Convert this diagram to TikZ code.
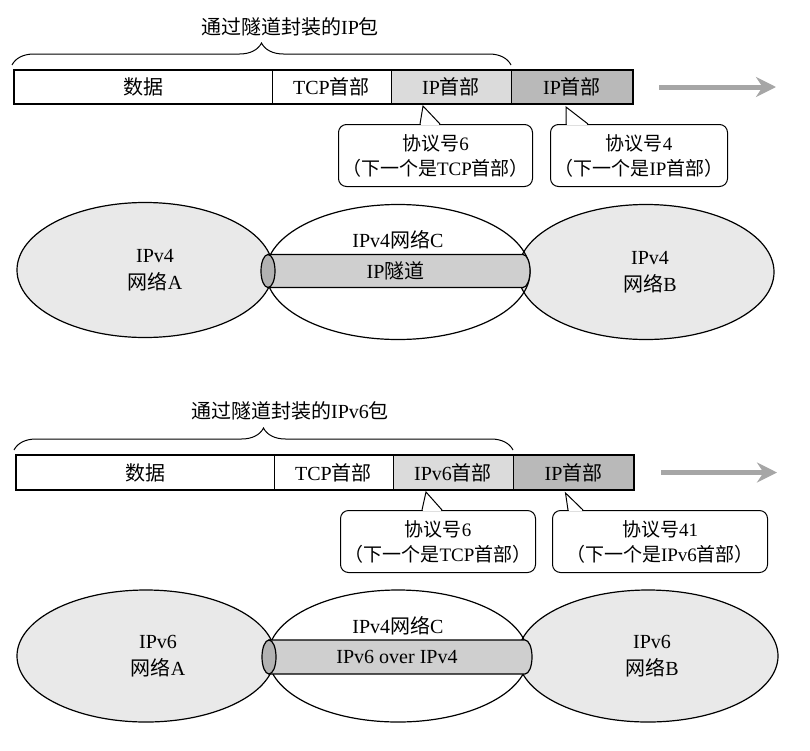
\documentclass[tikz,border=0pt]{standalone}
\usepackage{fontspec}
\setmainfont{Liberation Serif}
\newfontfamily\cjk{Noto Sans CJK SC}
\newcommand{\zh}[1]{{\cjk #1}}
\usetikzlibrary{positioning,calc,arrows.meta,shapes.geometric,decorations.pathreplacing}
\tikzset{
    cell/.style={rectangle, draw=black, line width=1pt, inner sep=0pt, outer sep=0pt, minimum height=34pt, font=\fontsize{20}{24}\selectfont},
    cellData/.style={cell, fill=white, minimum width=258pt},
    cellTcp/.style={cell, fill=white, minimum width=119pt},
    cellInner/.style={cell, fill=gray!28, minimum width=120pt},
    cellOuter/.style={cell, fill=gray!55, minimum width=122pt},
    noteBox/.style={rectangle, rounded corners=8pt, draw=black, line width=1pt, fill=white, minimum height=62pt, inner sep=0pt, align=center, font=\fontsize{19}{25}\selectfont},
    netGray/.style={ellipse, draw=black, line width=1.2pt, fill=gray!17, minimum width=256pt, minimum height=135pt},
    netWhite/.style={ellipse, draw=black, line width=1.2pt, minimum width=264pt, minimum height=135pt},
    tunBody/.style={draw=black, line width=1.2pt, fill=gray!38},
    tunEnd/.style={draw=black, line width=1.2pt, fill=gray!60},
    tunText/.style={font=\fontsize{20}{24}\selectfont},
    netText/.style={align=center, font=\fontsize{20}{27}\selectfont},
    title/.style={font=\fontsize{20}{24}\selectfont},
    bigArrow/.style={line width=5pt, gray!70, -{Stealth[length=20pt, width=20pt]}},
    pointer/.style={line width=1pt}
}

\begin{document}
\begin{tikzpicture}[x=1pt,y=-1pt]
\useasboundingbox (0,0) rectangle (810,750);

% ----------------------------
% IP over IP
% ----------------------------
\node[title] (cap1) at (290,27) {\zh{通过隧道封装的}IP\zh{包}};

\node[cellData, anchor=north west] (data1) at (14,70) {\zh{数据}};
\node[cellTcp, right=0pt of data1] (tcp1) {TCP\zh{首部}};
\node[cellInner, right=0pt of tcp1] (inner1) {IP\zh{首部}};
\node[cellOuter, right=0pt of inner1] (outer1) {IP\zh{首部}};
\draw[line width=2pt] (data1.north west) rectangle (outer1.south east);

\draw[decorate, decoration={brace, amplitude=22pt}, line width=1pt] ([xshift=-2pt,yshift=5pt]data1.north west) -- ([yshift=5pt]inner1.north east);

\coordinate (arr1s) at ([xshift=26pt]outer1.east);
\coordinate (arr1e) at ([xshift=143pt]outer1.east);
\draw[bigArrow] (arr1s) -- (arr1e);

\node[noteBox, minimum width=194pt, anchor=north west] (note1a) at (338,124) {\zh{协议号}6\\\zh{（下一个是}TCP\zh{首部）}};
\node[noteBox, minimum width=177pt, anchor=north west] (note1b) at (550,124) {\zh{协议号}4\\\zh{（下一个是}IP\zh{首部）}};
\coordinate (tip1a) at ([xshift=-28pt,yshift=-2pt]inner1.south);
\coordinate (tip1b) at ([xshift=-6pt,yshift=-3pt]outer1.south);

\node[netGray] (netA1) at (145,270) {};
\node[netGray] (netB1) at (646,272) {};
\node[netWhite] (netC1) at (398,272) {};

% tunnel
\coordinate (tun1w) at (268,271);
\coordinate (tun1e) at (523,271);
\draw[tunBody] ([yshift=16.5pt]tun1w) -- ([yshift=16.5pt]tun1e) arc[start angle=90, end angle=-90, x radius=7pt, y radius=16.5pt] -- ([yshift=-16.5pt]tun1w) -- cycle;
\draw[tunEnd] (tun1w) ellipse[x radius=7pt, y radius=16.5pt];
\node[tunText] (tun1) at ($(tun1w)!0.5!(tun1e)$) {IP\zh{隧道}};

\node[netText] (txtA1) at ([xshift=10pt]netA1.center) {IPv4\\\zh{网络}A};
\node[netText] (txtB1) at ([xshift=4pt]netB1.center) {IPv4\\\zh{网络}B};
\node[netText] (txtC1) at ([yshift=32pt]netC1.center) {IPv4\zh{网络}C};

% ----------------------------
% IPv6 over IPv4
% ----------------------------
\node[title] (cap2) at (290,411) {\zh{通过隧道封装的}IPv6\zh{包}};

\node[cellData, anchor=north west, minimum height=35pt] (data2) at (16,455) {\zh{数据}};
\node[cellTcp, minimum height=35pt, right=0pt of data2] (tcp2) {TCP\zh{首部}};
\node[cellInner, minimum height=35pt, right=0pt of tcp2] (inner2) {IPv6\zh{首部}};
\node[cellOuter, minimum height=35pt, minimum width=121pt, right=0pt of inner2] (outer2) {IP\zh{首部}};
\draw[line width=2pt] (data2.north west) rectangle (outer2.south east);

\draw[decorate, decoration={brace, amplitude=22pt}, line width=1pt] ([xshift=-2pt,yshift=5pt]data2.north west) -- ([yshift=5pt]inner2.north east);

\coordinate (arr2s) at ([xshift=27pt]outer2.east);
\coordinate (arr2e) at ([xshift=143pt]outer2.east);
\draw[bigArrow] (arr2s) -- (arr2e);

\node[noteBox, minimum width=195pt, anchor=north west] (note2a) at (340,510) {\zh{协议号}6\\\zh{（下一个是}TCP\zh{首部）}};
\node[noteBox, minimum width=215pt, anchor=north west] (note2b) at (552,510) {\zh{协议号}41\\\zh{（下一个是}IPv6\zh{首部）}};
\coordinate (tip2a) at ([xshift=-27pt,yshift=-2pt]inner2.south);
\coordinate (tip2b) at ([xshift=-8pt,yshift=-3pt]outer2.south);

\node[netGray, minimum width=258pt, minimum height=132pt] (netA2) at (146,656) {};
\node[netGray, minimum width=260pt, minimum height=132pt] (netB2) at (648,656) {};
\node[netWhite, minimum width=260pt, minimum height=132pt] (netC2) at (398,656) {};

% tunnel
\coordinate (tun2w) at (269,657);
\coordinate (tun2e) at (525,657);
\draw[tunBody] ([yshift=17pt]tun2w) -- ([yshift=17pt]tun2e) arc[start angle=90, end angle=-90, x radius=7pt, y radius=17pt] -- ([yshift=-17pt]tun2w) -- cycle;
\draw[tunEnd] (tun2w) ellipse[x radius=7pt, y radius=17pt];
\node[tunText] (tun2) at ($(tun2w)!0.5!(tun2e)$) {IPv6 over IPv4};

\node[netText] (txtA2) at ([xshift=12pt]netA2.center) {IPv6\\\zh{网络}A};
\node[netText] (txtB2) at ([xshift=4pt]netB2.center) {IPv6\\\zh{网络}B};
\node[netText] (txtC2) at ([yshift=30pt]netC2.center) {IPv4\zh{网络}C};

% ----------------------------
% Callout pointers
% ----------------------------
\foreach \n/\p/\a/\b in {note1a/tip1a/82/102, note1b/tip1b/16/38, note2a/tip2a/82/102, note2b/tip2b/16/31} {
  \fill[white] ([xshift=\a pt]\n.north west) -- (\p) -- ([xshift=\b pt]\n.north west) -- cycle;
  \draw[white, line width=2.5pt] ([xshift=\a pt+0.8pt]\n.north west) -- ([xshift=\b pt-0.8pt]\n.north west);
  \draw[pointer] ([xshift=\a pt]\n.north west) -- (\p) -- ([xshift=\b pt]\n.north west);
}

\end{tikzpicture}
\end{document}
